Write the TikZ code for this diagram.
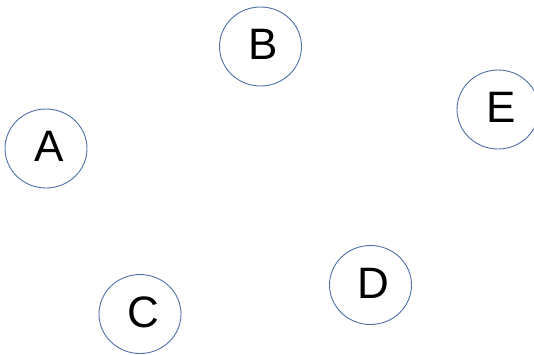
\documentclass[tikz,border=0pt]{standalone}
\usepackage{fontspec}
\setmainfont{Liberation Sans}
\usetikzlibrary{shapes.geometric}
\definecolor{ringblue}{HTML}{4F6FA8}
\newcommand{\lett}[1]{\kern6pt #1}
\begin{document}
\begin{tikzpicture}[x=1pt,y=-1pt,
  vertex/.style={ellipse,draw=ringblue,line width=0.9pt,minimum width=82pt,minimum height=79pt,inner sep=0pt,
    text height=33pt,text depth=7pt,
    font=\fontsize{44}{44}\selectfont,text=black}]
\useasboundingbox (0,0) rectangle (534,354);
\node[vertex] (A) at (46,148.5) {\lett{A}};
\node[vertex] (B) at (260.5,46.5) {\lett{B}};
\node[vertex] (C) at (140,314) {\lett{C}};
\node[vertex] (D) at (370.5,285) {\lett{D}};
\node[vertex] (E) at (498,109.5) {\lett{E}};
\end{tikzpicture}
\end{document}
